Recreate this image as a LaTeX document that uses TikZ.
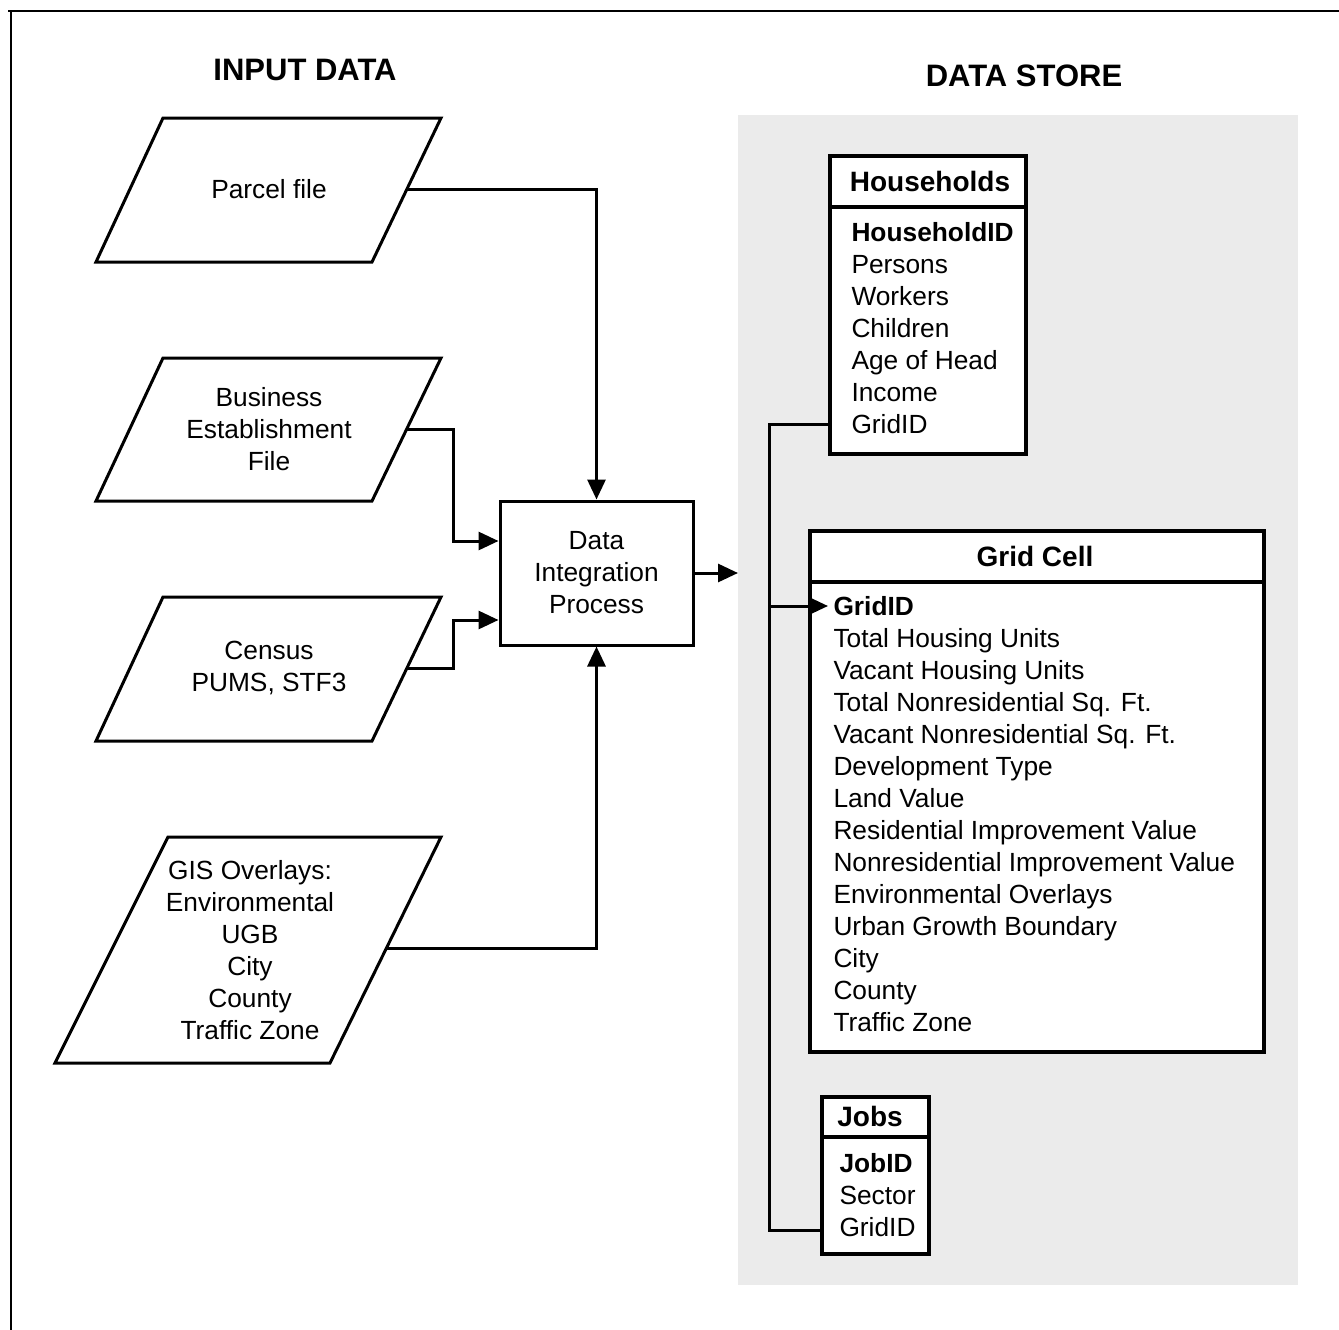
\documentclass[tikz,border=0pt]{standalone}
\usepackage{fontspec}
\setmainfont{Liberation Sans}
\usetikzlibrary{arrows.meta}
\begin{document}
\begin{tikzpicture}[x=1pt,y=-1pt,line width=3pt,
  txt/.style={font=\fontsize{26.3}{32}\selectfont, align=center, inner sep=0pt},
  item/.style={font=\fontsize{26.3}{32}\selectfont, anchor=base west, inner sep=0pt},
  bitem/.style={item, font=\fontsize{26.3}{32}\selectfont\bfseries},
  hdr/.style={font=\fontsize{28}{32}\selectfont\bfseries, anchor=base, inner sep=0pt},
  ttl/.style={font=\fontsize{31}{36}\selectfont\bfseries, anchor=base, inner sep=0pt},
  para/.style={draw, line width=3pt, line join=miter},
  tbl/.style={draw, fill=white, line width=3.5pt, inner sep=0pt, anchor=north west},
  arr/.style={-{Triangle[length=20pt,width=18pt]}, line width=3pt},
  conn/.style={line width=3pt}
]
\useasboundingbox (0,0) rectangle (1339,1330);
% frame and data store backdrop
\draw[line width=2pt] (8,11) -- (1339,11);
\draw[line width=2pt] (11,11) -- (11,1330);
\fill[gray!16] (738,115) rectangle (1298,1285);

% titles
\node[ttl] (tin) at (305,81) {INPUT DATA};
\node[ttl] (tds) at (1024,87) {DATA STORE};

% input parallelograms
\draw[para] (163,118) -- (441,118) -- (372,262) -- (96,262) -- cycle;
\node[txt] (parcel) at (269,189) {Parcel file};
\coordinate (parcelR) at (406,189);

\draw[para] (163,358) -- (441,358) -- (372,501) -- (96,501) -- cycle;
\node[txt] (bus) at (269,429) {Business\\Establishment\\File};
\coordinate (busR) at (407,429);

\draw[para] (163,597) -- (441,597) -- (372,741) -- (96,741) -- cycle;
\node[txt] (cen) at (269,668) {Census\\PUMS, STF3};
\coordinate (cenR) at (407,668);

\draw[para] (168,837) -- (441,837) -- (330,1063) -- (55,1063) -- cycle;
\node[txt] (gis) at (250,950) {GIS Overlays:\\Environmental\\UGB\\City\\County\\Traffic Zone};
\coordinate (gisR) at (387,948);

% process
\node[draw, line width=3pt, minimum width=193pt, minimum height=144pt, txt] (dip) at (596.5,573) {Data\\Integration\\Process};
\coordinate (dsin) at (738,573);

\draw[arr] (parcelR) -| (dip.north);
\draw[arr] (busR) -- (453,429) |- ([yshift=32pt]dip.west);
\draw[arr] (cenR) -- (453,668) |- ([yshift=-47pt]dip.west);
\draw[arr] (gisR) -| (dip.south);
\draw[arr] (dip.east) -- (dsin);

% trunk connector
\coordinate (trunkT) at (769,424);
\coordinate (trunkM) at (769,606);
\coordinate (trunkB) at (769,1230);

% Households table
\node[tbl, minimum width=196pt, minimum height=298pt] (hh) at (828,154) {};
\draw[line width=3.5pt] (828,207) -- (1024,207);
\node[hdr] (hhh) at (930,191) {Households};
\node[bitem] (hh1) at (850,241) {HouseholdID};
\node[item] (hh2) at (850,273) {Persons};
\node[item] (hh3) at (850,305) {Workers};
\node[item] (hh4) at (850,337) {Children};
\node[item] (hh5) at (850,369) {Age of Head};
\node[item] (hh6) at (850,401) {Income};
\node[item] (hh7) at (850,433) {GridID};

% Grid Cell table
\node[tbl, minimum width=454pt, minimum height=521pt] (gc) at (808,529) {};
\draw[line width=3.5pt] (808,582) -- (1262,582);
\node[hdr] (gch) at (1035,566) {Grid Cell};
\node[bitem] (gc1) at (832,615) {GridID};
\node[item] (gc2) at (832,647) {Total Housing Units};
\node[item] (gc3) at (832,679) {Vacant Housing Units};
\node[item] (gc4) at (832,711) {Total Nonresidential Sq. Ft.};
\node[item] (gc5) at (832,743) {Vacant Nonresidential Sq. Ft.};
\node[item] (gc6) at (832,775) {Development Type};
\node[item] (gc7) at (832,807) {Land Value};
\node[item] (gc8) at (832,839) {Residential Improvement Value};
\node[item] (gc9) at (832,871) {Nonresidential Improvement Value};
\node[item] (gc10) at (832,903) {Environmental Overlays};
\node[item] (gc11) at (832,935) {Urban Growth Boundary};
\node[item] (gc12) at (832,967) {City};
\node[item] (gc13) at (832,999) {County};
\node[item] (gc14) at (832,1031) {Traffic Zone};
\coordinate (gcIn) at (828,606);

% Jobs table
\node[tbl, minimum width=107pt, minimum height=157pt] (jobs) at (820,1095) {};
\draw[line width=3.5pt] (820,1137) -- (927,1137);
\node[hdr] (jh) at (870,1126) {Jobs};
\node[bitem] (j1) at (838,1172) {JobID};
\node[item] (j2) at (838,1204) {Sector};
\node[item] (j3) at (838,1236) {GridID};

% links between tables
\draw[conn] (hh.west |- trunkT) -- (trunkT) -- (trunkB) -- (jobs.west |- trunkB);
\draw[arr] (trunkM) -- (gcIn);
\end{tikzpicture}
\end{document}
